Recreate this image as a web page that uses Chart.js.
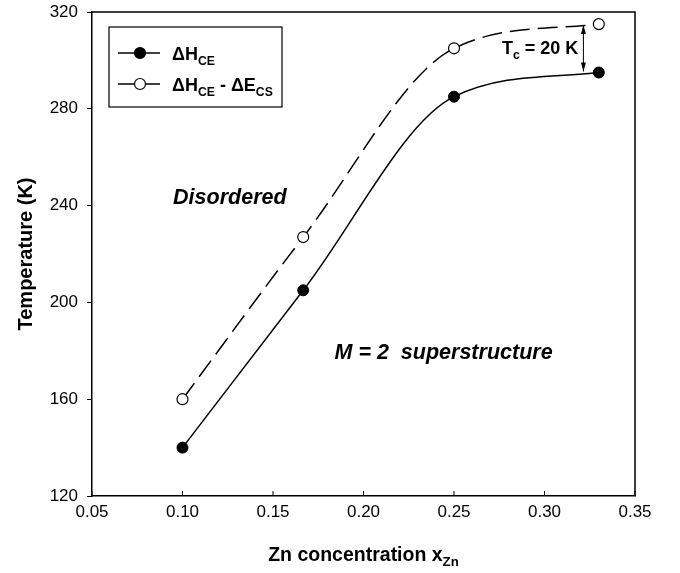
<!DOCTYPE html>
<html><head><meta charset="utf-8">
<script src="https://cdn.jsdelivr.net/npm/chart.js@4.4.0/dist/chart.umd.min.js"></script>
<style>html,body{margin:0;padding:0;background:#fff}#wrap{width:680px;height:573px}</style>
</head><body><div id="wrap"><canvas id="c" width="680" height="573"></canvas></div>
<script>
// ---- data ----
const xValues  = [0.10, 0.1667, 0.25, 0.33];           // Zn concentration
const seriesCE = [140, 205, 285, 295];                 // ΔH_CE
const seriesCS = [160, 227, 305, 315];                 // ΔH_CE - ΔE_CS
const xTicks   = [0.05, 0.10, 0.15, 0.20, 0.25, 0.30, 0.35];
const yTicks   = [120, 160, 200, 240, 280, 320];

const FONT = 'Liberation Sans, Arial, sans-serif';

function drawRich(ctx, x, y, parts, baseSize, style) {
  let cx = x;
  parts.forEach(([t, sub]) => {
    const size = sub ? baseSize * 0.68 : baseSize;
    ctx.font = `${style} ${size}px ${FONT}`;
    ctx.fillText(t, cx, sub ? y + baseSize * 0.28 : y);
    cx += ctx.measureText(t).width;
  });
  return cx - x;
}
function richWidth(ctx, parts, baseSize, style) {
  let w = 0;
  parts.forEach(([t, sub]) => {
    const size = sub ? baseSize * 0.68 : baseSize;
    ctx.font = `${style} ${size}px ${FONT}`;
    w += ctx.measureText(t).width;
  });
  return w;
}

const deco = {
  id: 'deco',
  afterDraw(chart) {
    const { ctx, chartArea: a, scales: { x, y } } = chart;
    ctx.save();
    ctx.strokeStyle = '#000';
    ctx.fillStyle = '#000';
    // frame top/right
    ctx.lineWidth = 1.5;
    ctx.beginPath();
    ctx.moveTo(a.left, a.top); ctx.lineTo(a.right, a.top); ctx.lineTo(a.right, a.bottom);
    ctx.stroke();
    // x ticks (inward)
    ctx.lineWidth = 1;
    xTicks.forEach(v => {
      const px = x.getPixelForValue(v);
      ctx.beginPath(); ctx.moveTo(px, a.bottom); ctx.lineTo(px, a.bottom - 5); ctx.stroke();
    });

    // legend box
    const lx = a.left + 17, ly = a.top + 15, lw = 173, lh = 80;
    ctx.lineWidth = 1.2;
    ctx.fillStyle = '#fff';
    ctx.fillRect(lx, ly, lw, lh);
    ctx.strokeRect(lx, ly, lw, lh);
    ctx.fillStyle = '#000';
    const rows = [
      { yy: ly + 26, fill: '#000', parts: [['ΔH', 0], ['CE', 1]] },
      { yy: ly + 57, fill: '#fff', parts: [['ΔH', 0], ['CE', 1], [' - ΔE', 0], ['CS', 1]] }
    ];
    rows.forEach(r => {
      ctx.lineWidth = 1.5;
      ctx.beginPath(); ctx.moveTo(lx + 9, r.yy); ctx.lineTo(lx + 51, r.yy); ctx.stroke();
      ctx.beginPath(); ctx.arc(lx + 31, r.yy, 5.5, 0, Math.PI * 2);
      ctx.fillStyle = r.fill; ctx.fill();
      ctx.lineWidth = 1.2; ctx.stroke();
      ctx.fillStyle = '#000';
      ctx.textBaseline = 'alphabetic';
      drawRich(ctx, lx + 63, r.yy + 6.5, r.parts, 18, 'bold');
    });

    // annotations
    ctx.textBaseline = 'middle';
    ctx.font = `italic bold 21.5px ${FONT}`;
    ctx.fillText('Disordered', x.getPixelForValue(0.0948), y.getPixelForValue(243));
    ctx.fillText('M = 2  superstructure', x.getPixelForValue(0.184), y.getPixelForValue(179));

    // Tc annotation
    ctx.textBaseline = 'alphabetic';
    drawRich(ctx, 502, 54, [['T', 0], ['c', 1], [' = 20 K', 0]], 18, 'bold');

    // double-headed arrow
    const ax = x.getPixelForValue(0.3215);
    const y1 = y.getPixelForValue(315), y2 = y.getPixelForValue(295);
    ctx.lineWidth = 1;
    ctx.beginPath(); ctx.moveTo(ax, y1 + 2); ctx.lineTo(ax, y2 - 1); ctx.stroke();
    [[y1 + 1, 1], [y2 - 1, -1]].forEach(([yy, d]) => {
      ctx.beginPath();
      ctx.moveTo(ax, yy); ctx.lineTo(ax - 2.5, yy + d * 9); ctx.lineTo(ax + 2.5, yy + d * 9); ctx.closePath();
      ctx.fill();
    });

    // axis titles
    const xt = [['Zn concentration x', 0], ['Zn', 1]];
    const wx = richWidth(ctx, xt, 19.5, 'bold');
    ctx.textBaseline = 'alphabetic';
    drawRich(ctx, (a.left + a.right) / 2 - wx / 2, 561, xt, 19.5, 'bold');

    ctx.save();
    ctx.translate(32, (a.top + a.bottom) / 2);
    ctx.rotate(-Math.PI / 2);
    ctx.font = `bold 20px ${FONT}`;
    ctx.textAlign = 'center';
    ctx.textBaseline = 'alphabetic';
    ctx.fillText('Temperature (K)', 0, 0);
    ctx.restore();

    ctx.restore();
  }
};

new Chart(document.getElementById('c').getContext('2d'), {
  type: 'line',
  data: {
    datasets: [
      {
        label: 'ΔH_CE',
        data: xValues.map((v, i) => ({ x: v, y: seriesCE[i] })),
        borderColor: '#000', borderWidth: 1.5,
        pointRadius: 5.5, pointBackgroundColor: '#000', pointBorderColor: '#000', pointBorderWidth: 1,
        cubicInterpolationMode: 'monotone', fill: false
      },
      {
        label: 'ΔH_CE - ΔE_CS',
        data: xValues.map((v, i) => ({ x: v, y: seriesCS[i] })),
        borderColor: '#000', borderWidth: 1.5, borderDash: [20, 8],
        pointRadius: 5.5, pointBackgroundColor: '#fff', pointBorderColor: '#000', pointBorderWidth: 1.2,
        cubicInterpolationMode: 'monotone', fill: false
      }
    ]
  },
  options: {
    responsive: false, animation: false,
    layout: { padding: { left: 0, right: 45, top: 12, bottom: 0 } },
    plugins: { legend: { display: false }, tooltip: { enabled: false } },
    scales: {
      x: {
        type: 'linear', min: 0.05, max: 0.35,
        afterBuildTicks: s => { s.ticks = xTicks.map(v => ({ value: v })); },
        afterFit: s => { s.height = 77; s.paddingLeft = 0; s.paddingRight = 0; },
        grid: { drawOnChartArea: false, drawTicks: false },
        border: { color: '#000', width: 1.5 },
        ticks: { color: '#000', font: { family: FONT, size: 17 }, padding: 6, maxRotation: 0, autoSkip: false,
                 callback: v => Number(v).toFixed(2) }
      },
      y: {
        type: 'linear', min: 120, max: 320,
        afterBuildTicks: s => { s.ticks = yTicks.map(v => ({ value: v })); },
        afterFit: s => { s.width = 92; s.paddingTop = 0; s.paddingBottom = 0; },
        grid: { drawOnChartArea: false, drawTicks: true, tickLength: 5, color: '#000', tickWidth: 1 },
        border: { color: '#000', width: 1.5 },
        ticks: { color: '#000', font: { family: FONT, size: 17 }, padding: 9, autoSkip: false }
      }
    }
  },
  plugins: [deco]
});
</script>
</body></html>
